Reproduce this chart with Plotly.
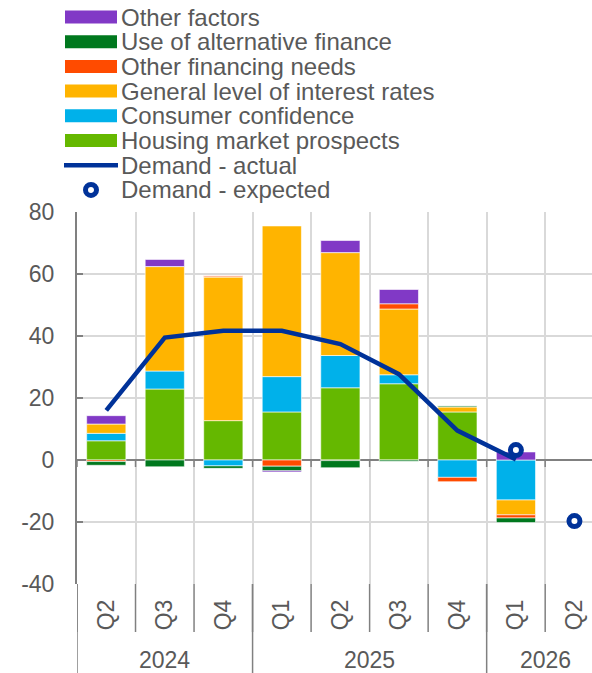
import plotly.graph_objects as go

years = ["2024", "2024", "2024", "2025", "2025", "2025", "2025", "2026", "2026"]
quarters = ["Q2", "Q3", "Q4", "Q1", "Q2", "Q3", "Q4", "Q1", "Q2"]

housing = [6.2, 22.9, 12.7, 15.5, 23.3, 24.6, 15.5, 0.0, None]
consumer = [2.4, 5.8, -1.9, 11.4, 10.4, 2.9, -5.6, -12.9, None]
interest = [3.0, 33.7, 46.3, 48.6, 33.2, 21.2, 1.6, -4.8, None]
other_fin = [-0.5, 0.0, 0.4, -2.0, -0.2, 1.7, -1.4, -1.0, None]
alt_fin = [-1.2, -2.2, -0.8, -1.5, -2.3, -0.4, 0.4, -1.5, None]
other = [2.7, 2.3, 0.0, -0.4, 3.9, 4.6, 0.0, 2.6, None]
actual = [16.0, 39.5, 41.7, 41.7, 37.4, 27.7, 9.5, 0.2, None]
expected = [None, None, None, None, None, None, None, 3.2, -19.7]

y_tickvals = [-40, -20, 0, 20, 40, 60, 80]
y_ticktext = ["-40", "-20", "0", "20", "40", "60", "80"]

series = [
    ("Housing market prospects", housing, "#65b800"),
    ("Consumer confidence", consumer, "#00b1ea"),
    ("General level of interest rates", interest, "#ffb400"),
    ("Other financing needs", other_fin, "#ff4b00"),
    ("Use of alternative finance", alt_fin, "#00781e"),
    ("Other factors", other, "#8139c6"),
]
BLUE = "#003299"
GRAY = "#808080"
TXT = "#595959"
FS = 23
LFS = 24
x = [f"{y} {q}" for y, q in zip(years, quarters)]

fig = go.Figure()
for name, vals, col in series:
    fig.add_trace(go.Bar(x=x, y=vals, name=name,
                         marker=dict(color=col, line=dict(color="white", width=0.6)),
                         showlegend=False))
fig.add_trace(go.Scatter(x=x, y=actual, mode="lines", name="Demand - actual",
                         line=dict(color=BLUE, width=4.5), showlegend=False))
fig.add_trace(go.Scatter(x=x, y=expected, mode="markers", name="Demand - expected",
                         marker=dict(symbol="circle", size=11, color="white",
                                     line=dict(color=BLUE, width=5)),
                         showlegend=False))

L, T, W, H = 77, 212, 515, 372
FIG_W, FIG_H = 592, 673
BOT = FIG_H - T - H


def px(xp):
    return (xp - L) / W


def py(yp):
    return (T + H - yp) / H


shapes = []
annotations = []

# legend (drawn manually to match wide swatches)
legend_items = [
    ("Other factors", "#8139c6", "bar"),
    ("Use of alternative finance", "#00781e", "bar"),
    ("Other financing needs", "#ff4b00", "bar"),
    ("General level of interest rates", "#ffb400", "bar"),
    ("Consumer confidence", "#00b1ea", "bar"),
    ("Housing market prospects", "#65b800", "bar"),
    ("Demand - actual", BLUE, "line"),
    ("Demand - expected", BLUE, "marker"),
]
for i, (name, col, kind) in enumerate(legend_items):
    yc = 17 + i * 24.7
    if kind == "bar":
        shapes.append(dict(type="rect", xref="paper", yref="paper", x0=px(65), x1=px(117),
                           y0=py(yc + 6.5), y1=py(yc - 6.5), fillcolor=col,
                           line=dict(width=0), layer="above"))
    elif kind == "line":
        shapes.append(dict(type="line", xref="paper", yref="paper", x0=px(64), x1=px(118),
                           y0=py(yc), y1=py(yc), line=dict(color=col, width=4.5), layer="above"))
    else:
        shapes.append(dict(type="circle", xref="paper", yref="paper", x0=px(91 - 5.5),
                           x1=px(91 + 5.5), y0=py(yc + 5.5), y1=py(yc - 5.5),
                           fillcolor="white", line=dict(color=col, width=5), layer="above"))
    annotations.append(dict(text=name, xref="paper", yref="paper", x=px(120), y=py(yc),
                            xanchor="left", yanchor="middle", showarrow=False,
                            borderpad=0, font=dict(size=LFS, color=TXT)))

# category boundary ticks below the plot and small ticks on the zero line
n = len(x)
for i in range(n + 1):
    xb = i - 0.5
    shapes.append(dict(type="line", xref="x", yref="paper", x0=xb, x1=xb, y0=0,
                       y1=-(632 - (T + H)) / H, line=dict(color=GRAY, width=1.5)))
    shapes.append(dict(type="line", xref="x", yref="paper", x0=xb, x1=xb, y0=py(460),
                       y1=py(467), line=dict(color=GRAY, width=1.5), layer="above"))

# year group dividers and labels
groups = []
for i, yv in enumerate(years):
    if not groups or groups[-1][0] != yv:
        groups.append([yv, i, i])
    else:
        groups[-1][2] = i
for yv, i0, i1 in groups:
    shapes.append(dict(type="line", xref="x", yref="paper", x0=i0 - 0.5, x1=i0 - 0.5, y0=0,
                       y1=-BOT / H, line=dict(color=GRAY, width=1.5)))
    annotations.append(dict(text=yv, xref="x", yref="paper", x=(i0 + i1) / 2, y=py(660),
                            xanchor="center", yanchor="middle", showarrow=False,
                            font=dict(size=FS, color=TXT)))

fig.update_layout(
    width=FIG_W, height=FIG_H,
    margin=dict(l=L, r=FIG_W - L - W, t=T, b=BOT, pad=0),
    plot_bgcolor="white", paper_bgcolor="white",
    barmode="relative", bargap=0.33,
    font=dict(family="Liberation Sans, Arial, sans-serif", size=FS, color=TXT),
    shapes=shapes, annotations=annotations, showlegend=False,
)
fig.update_xaxes(type="category", range=[-0.5, 8.3], tickmode="array", tickvals=x,
                 ticktext=quarters, tickson="boundaries", showgrid=True,
                 gridcolor="#d9d9d9", gridwidth=2, ticks="", tickangle=-90,
                 ticklabelstandoff=10, showline=False, automargin=False,
                 tickfont=dict(size=FS, color=TXT))
fig.update_yaxes(range=[-40, 80], tickmode="array", tickvals=y_tickvals, ticktext=y_ticktext,
                 showgrid=True, gridcolor="#d9d9d9", gridwidth=2,
                 zeroline=True, zerolinecolor=GRAY, zerolinewidth=2, showline=True,
                 linecolor=GRAY, linewidth=2, ticks="inside", ticklen=6, tickcolor=GRAY,
                 tickwidth=1.5, ticklabelstandoff=16, automargin=False,
                 tickfont=dict(size=FS, color=TXT))

fig.write_html("out.html", config={"displayModeBar": False},
               post_script="document.body.style.margin='0';document.body.style.overflow='hidden';")
